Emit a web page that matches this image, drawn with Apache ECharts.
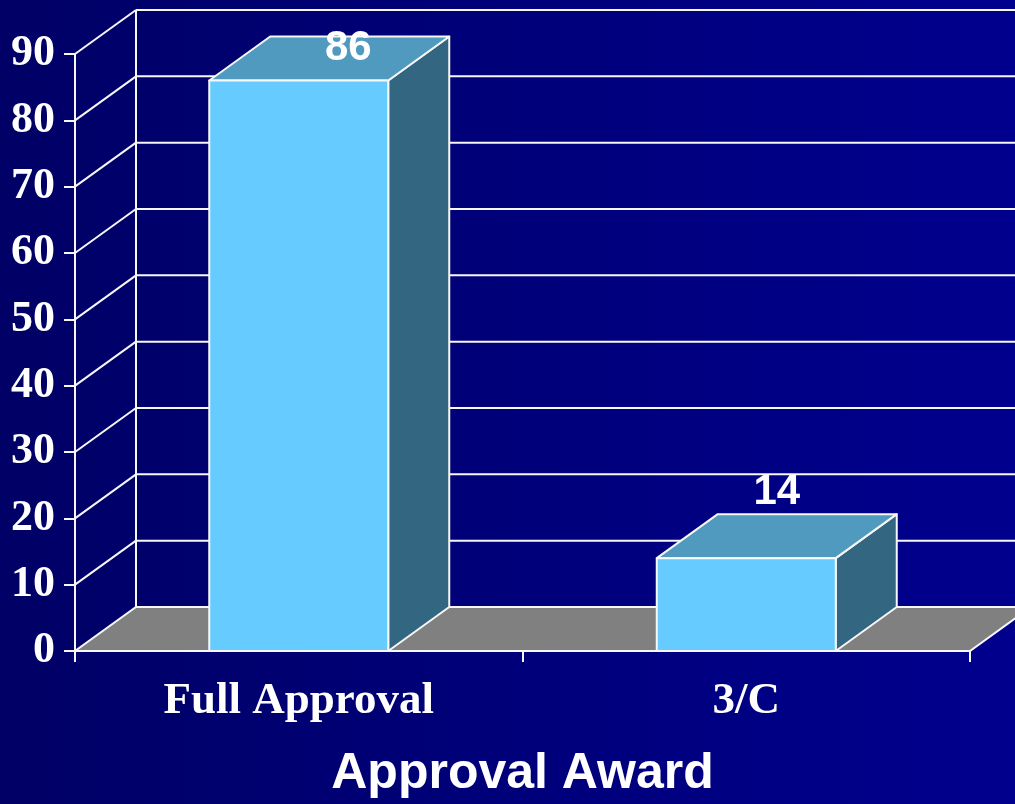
<!DOCTYPE html>
<html>
<head>
<meta charset="utf-8">
<title>Approval Award</title>
<script src="https://cdn.jsdelivr.net/npm/echarts@6/dist/echarts.min.js"></script>
<style>
  html, body { margin: 0; padding: 0; }
  body { background: linear-gradient(to right, #000066, #00008e); }
  #chart { width: 1015px; height: 804px; }
</style>
</head>
<body>
<div id="chart"></div>
<script>
// Chart data
const categories = ['Full Approval', '3/C'];
const values = [86, 14];
const yMin = 0;
const yMax = 90;
const yStep = 10;

// Oblique depth of the 3D frame (pixels)
const DEPTH_X = 61;
const DEPTH_Y = -44;
const LINE = '#f7f7f7';
const LINE_W = 2;

const FACE_FRONT = '#66ccff';
const FACE_TOP = '#5099bf';
const FACE_SIDE = '#336680';

// Floor, left wall and back-wall grid lines
function renderFrame(params, api) {
  const cs = params.coordSys;
  const left = cs.x, right = cs.x + cs.width;
  const y0 = api.coord([0, yMin])[1];
  const yTop = api.coord([0, yMax])[1];
  const children = [];

  // grey floor
  children.push({
    type: 'polygon',
    shape: { points: [[left, y0], [right, y0], [right + DEPTH_X, y0 + DEPTH_Y], [left + DEPTH_X, y0 + DEPTH_Y]] },
    style: { fill: '#808080', stroke: LINE, lineWidth: LINE_W }
  });
  // back wall vertical edge
  children.push({
    type: 'line',
    shape: { x1: left + DEPTH_X, y1: y0 + DEPTH_Y, x2: left + DEPTH_X, y2: yTop + DEPTH_Y },
    style: { stroke: LINE, lineWidth: LINE_W }
  });
  for (let v = yMin + yStep; v <= yMax; v += yStep) {
    const y = api.coord([0, v])[1];
    // left wall diagonal
    children.push({
      type: 'line',
      shape: { x1: left, y1: y, x2: left + DEPTH_X, y2: y + DEPTH_Y },
      style: { stroke: LINE, lineWidth: LINE_W }
    });
    // back wall grid line
    children.push({
      type: 'line',
      shape: { x1: left + DEPTH_X, y1: y + DEPTH_Y, x2: right + DEPTH_X, y2: y + DEPTH_Y },
      style: { stroke: LINE, lineWidth: LINE_W }
    });
  }
  return { type: 'group', children: children };
}

// One 3D box per category, with its value written above it
function renderBox(params, api) {
  const cs = params.coordSys;
  const cat = api.value(0);
  const val = api.value(1);
  const base = api.coord([cat, yMin]);
  const top = api.coord([cat, val]);
  const half = api.size([1, 0])[0] * 0.2;
  const x0 = base[0] - half, x1 = base[0] + half;
  const yb = base[1], yt = top[1];
  const stroke = { stroke: LINE, lineWidth: LINE_W, lineJoin: 'round' };

  // label above the centre of the top face, kept inside the frame
  let lx = (x0 + x1) / 2 + DEPTH_X / 2;
  let ly = yt + DEPTH_Y / 2 - 44;
  const minY = cs.y - 6;
  if (ly < minY) { ly = minY; lx += 19; }

  return {
    type: 'group',
    children: [
      {
        type: 'polygon',
        shape: { points: [[x1, yt], [x1, yb], [x1 + DEPTH_X, yb + DEPTH_Y], [x1 + DEPTH_X, yt + DEPTH_Y]] },
        style: Object.assign({ fill: FACE_SIDE }, stroke)
      },
      {
        type: 'polygon',
        shape: { points: [[x0, yt], [x1, yt], [x1 + DEPTH_X, yt + DEPTH_Y], [x0 + DEPTH_X, yt + DEPTH_Y]] },
        style: Object.assign({ fill: FACE_TOP }, stroke)
      },
      {
        type: 'rect',
        shape: { x: x0, y: yt, width: x1 - x0, height: yb - yt },
        style: Object.assign({ fill: FACE_FRONT }, stroke)
      },
      {
        type: 'text',
        z2: 10,
        style: {
          x: lx, y: ly,
          text: String(val),
          fill: '#ffffff',
          font: 'bold 42px "Liberation Sans", Arial, sans-serif',
          align: 'center',
          verticalAlign: 'middle'
        }
      }
    ]
  };
}

const chart = echarts.init(document.getElementById('chart'), null, { renderer: 'canvas' });

chart.setOption({
  backgroundColor: 'transparent',
  animation: false,
  grid: { left: 75, right: 45, top: 54, bottom: 150, containLabel: false },
  xAxis: {
    type: 'category',
    data: categories,
    boundaryGap: true,
    axisLine: { show: true, lineStyle: { color: LINE, width: LINE_W } },
    axisTick: { show: true, length: 11, alignWithLabel: false, lineStyle: { color: LINE, width: LINE_W } },
    axisLabel: {
      color: '#ffffff',
      fontFamily: '"Liberation Serif", "Times New Roman", serif',
      fontWeight: 'bold',
      fontSize: 45,
      margin: 28
    },
    name: 'Approval Award',
    nameLocation: 'middle',
    nameGap: 123,
    nameTextStyle: {
      color: '#ffffff',
      fontFamily: '"Liberation Sans", Arial, sans-serif',
      fontWeight: 'bold',
      fontSize: 50,
      verticalAlign: 'middle'
    },
    splitLine: { show: false }
  },
  yAxis: {
    type: 'value',
    min: yMin,
    max: yMax,
    interval: yStep,
    axisLine: { show: true, lineStyle: { color: LINE, width: LINE_W } },
    axisTick: { show: true, length: 11, lineStyle: { color: LINE, width: LINE_W } },
    axisLabel: {
      color: '#ffffff',
      fontFamily: '"Liberation Serif", "Times New Roman", serif',
      fontWeight: 'bold',
      fontSize: 44,
      margin: 20
    },
    splitLine: { show: false }
  },
  series: [
    {
      type: 'custom',
      name: 'frame',
      clip: false,
      silent: true,
      z: 1,
      renderItem: renderFrame,
      data: [[0, 0]]
    },
    {
      type: 'custom',
      name: 'Approval Award',
      clip: false,
      z: 3,
      renderItem: renderBox,
      encode: { x: 0, y: 1 },
      data: values.map(function (v, i) { return [i, v]; })
    }
  ]
});
</script>
</body>
</html>
